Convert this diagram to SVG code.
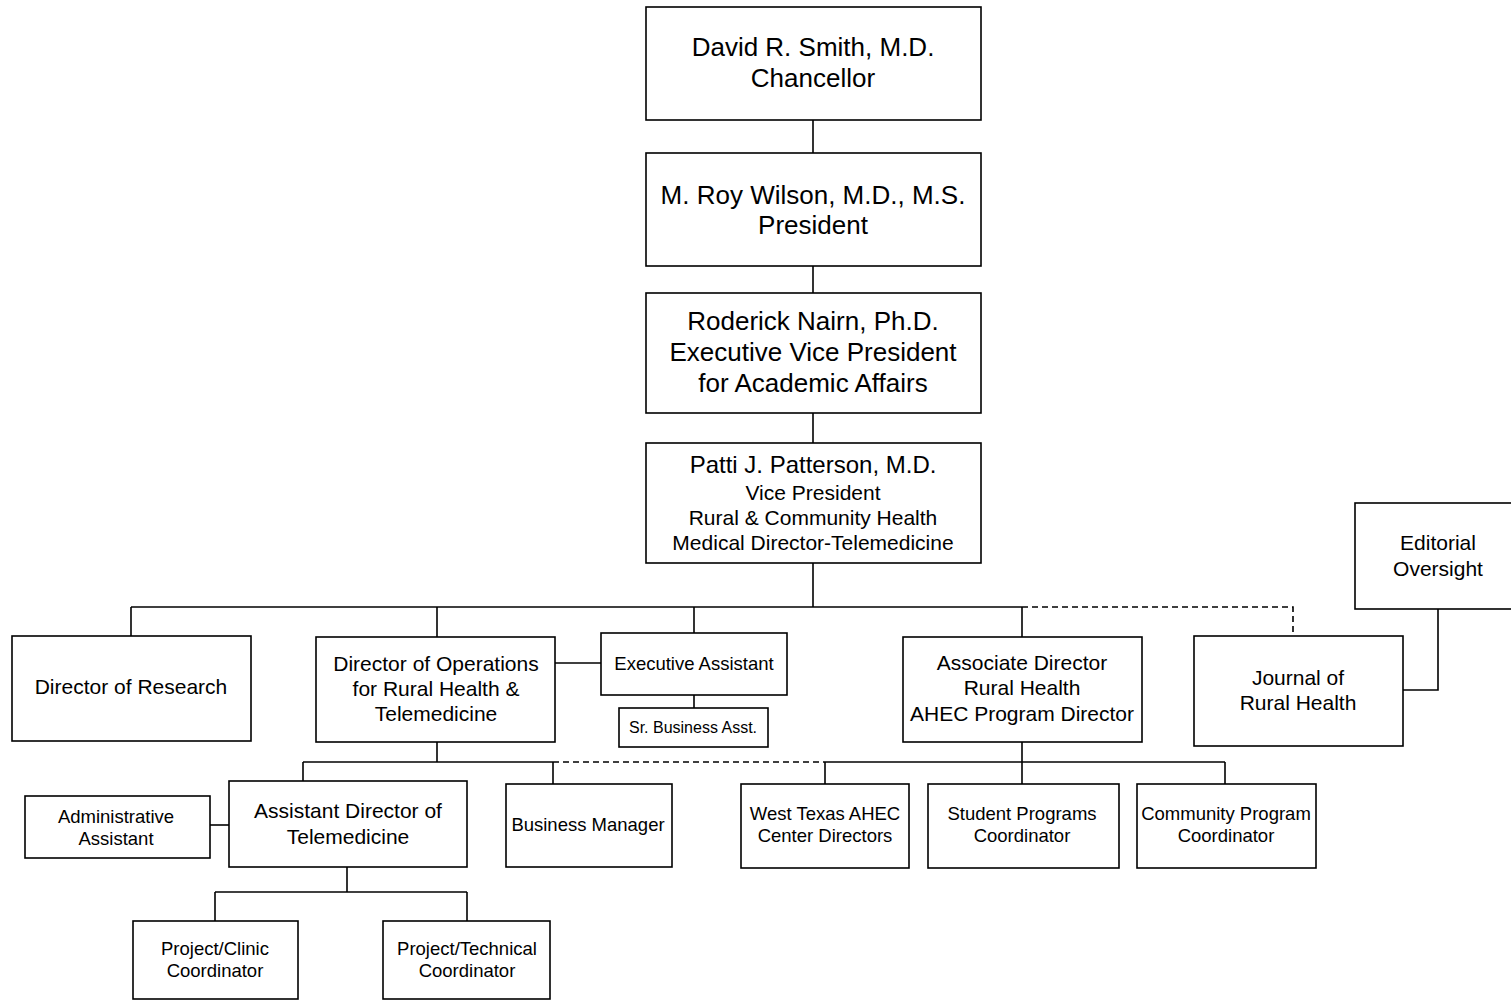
<svg xmlns="http://www.w3.org/2000/svg" width="1511" height="1000" viewBox="0 0 1511 1000">
<style>
rect{fill:#fff;stroke:#000;stroke-width:1.6}
text{font-family:"Liberation Sans",Arial,sans-serif;text-anchor:middle;fill:#000}
.xl{font-size:26px}.l{font-size:24px}.m{font-size:21px}.s{font-size:18.5px}.xs{font-size:16px}
#connectors line,#connectors polyline{stroke:#000;stroke-width:1.6;fill:none}
#connectors .d{stroke-dasharray:6 4}
</style>
<rect x="0" y="0" width="1511" height="1000" style="fill:#fff;stroke:none"/>
<g id="connectors">
<line x1="813" y1="120" x2="813" y2="153"/>
<line x1="813" y1="266" x2="813" y2="293"/>
<line x1="813" y1="413" x2="813" y2="443"/>
<line x1="813" y1="563" x2="813" y2="607"/>
<line x1="131" y1="607" x2="1022" y2="607"/>
<polyline class="d" points="1022,607 1293,607 1293,636"/>
<line x1="131" y1="607" x2="131" y2="636"/>
<line x1="437" y1="607" x2="437" y2="637"/>
<line x1="694" y1="607" x2="694" y2="633"/>
<line x1="1022" y1="607" x2="1022" y2="637"/>
<line x1="555" y1="663" x2="601" y2="663"/>
<line x1="694" y1="695" x2="694" y2="708"/>
<polyline points="1438,609 1438,690 1403,690"/>
<line x1="437" y1="742" x2="437" y2="762"/>
<line x1="303" y1="762" x2="553" y2="762"/>
<line class="d" x1="553" y1="762" x2="825" y2="762"/>
<line x1="303" y1="762" x2="303" y2="781"/>
<line x1="553" y1="762" x2="553" y2="784"/>
<line x1="210" y1="825" x2="229" y2="825"/>
<line x1="1022" y1="742" x2="1022" y2="762"/>
<line x1="825" y1="762" x2="1225" y2="762"/>
<line x1="825" y1="762" x2="825" y2="784"/>
<line x1="1022" y1="762" x2="1022" y2="784"/>
<line x1="1225" y1="762" x2="1225" y2="784"/>
<line x1="347" y1="867" x2="347" y2="892"/>
<line x1="215" y1="892" x2="467" y2="892"/>
<line x1="215" y1="892" x2="215" y2="921"/>
<line x1="467" y1="892" x2="467" y2="921"/>
</g>
<g id="chancellor"><rect x="646" y="7" width="335" height="113"/><text class="xl" x="813" y="56">David R. Smith, M.D.</text><text class="xl" x="813" y="87">Chancellor</text></g>
<g id="president"><rect x="646" y="153" width="335" height="113"/><text class="xl" x="813" y="204">M. Roy Wilson, M.D., M.S.</text><text class="xl" x="813" y="234">President</text></g>
<g id="evp"><rect x="646" y="293" width="335" height="120"/><text class="xl" x="813" y="330">Roderick Nairn, Ph.D.</text><text class="xl" x="813" y="361">Executive Vice President</text><text class="xl" x="813" y="392">for Academic Affairs</text></g>
<g id="vp"><rect x="646" y="443" width="335" height="120"/><text class="l" x="813" y="473">Patti J. Patterson, M.D.</text><text class="m" x="813" y="500">Vice President</text><text class="m" x="813" y="525">Rural &amp; Community Health</text><text class="m" x="813" y="550">Medical Director-Telemedicine</text></g>
<g id="dir-research"><rect x="12" y="636" width="239" height="105"/><text class="m" x="131" y="694">Director of Research</text></g>
<g id="dir-ops"><rect x="316" y="637" width="239" height="105"/><text class="m" x="436" y="671">Director of Operations</text><text class="m" x="436" y="696">for Rural Health &amp;</text><text class="m" x="436" y="721">Telemedicine</text></g>
<g id="exec-asst"><rect x="601" y="633" width="186" height="62"/><text class="s" x="694" y="670">Executive Assistant</text></g>
<g id="sr-bus"><rect x="619" y="708" width="149" height="39"/><text class="xs" x="693" y="733">Sr. Business Asst.</text></g>
<g id="assoc-dir"><rect x="903" y="637" width="239" height="105"/><text class="m" x="1022" y="670">Associate Director</text><text class="m" x="1022" y="695">Rural Health</text><text class="m" x="1022" y="721">AHEC Program Director</text></g>
<g id="journal"><rect x="1194" y="636" width="209" height="110"/><text class="m" x="1298" y="685">Journal of</text><text class="m" x="1298" y="710">Rural Health</text></g>
<g id="editorial"><rect x="1355" y="503" width="160" height="106"/><text class="m" x="1438" y="550">Editorial</text><text class="m" x="1438" y="576">Oversight</text></g>
<g id="asst-dir-tele"><rect x="229" y="781" width="238" height="86"/><text class="m" x="348" y="818">Assistant Director of</text><text class="m" x="348" y="844">Telemedicine</text></g>
<g id="admin-asst"><rect x="25" y="796" width="185" height="62"/><text class="s" x="116" y="823">Administrative</text><text class="s" x="116" y="845">Assistant</text></g>
<g id="bus-mgr"><rect x="506" y="784" width="166" height="83"/><text class="s" x="588" y="831">Business Manager</text></g>
<g id="wt-ahec"><rect x="741" y="784" width="168" height="84"/><text class="s" x="825" y="820">West Texas AHEC</text><text class="s" x="825" y="842">Center Directors</text></g>
<g id="student"><rect x="928" y="784" width="191" height="84"/><text class="s" x="1022" y="820">Student Programs</text><text class="s" x="1022" y="842">Coordinator</text></g>
<g id="community"><rect x="1137" y="784" width="179" height="84"/><text class="s" x="1226" y="820">Community Program</text><text class="s" x="1226" y="842">Coordinator</text></g>
<g id="proj-clinic"><rect x="133" y="921" width="165" height="78"/><text class="s" x="215" y="955">Project/Clinic</text><text class="s" x="215" y="977">Coordinator</text></g>
<g id="proj-tech"><rect x="383" y="921" width="167" height="78"/><text class="s" x="467" y="955">Project/Technical</text><text class="s" x="467" y="977">Coordinator</text></g>
</svg>
